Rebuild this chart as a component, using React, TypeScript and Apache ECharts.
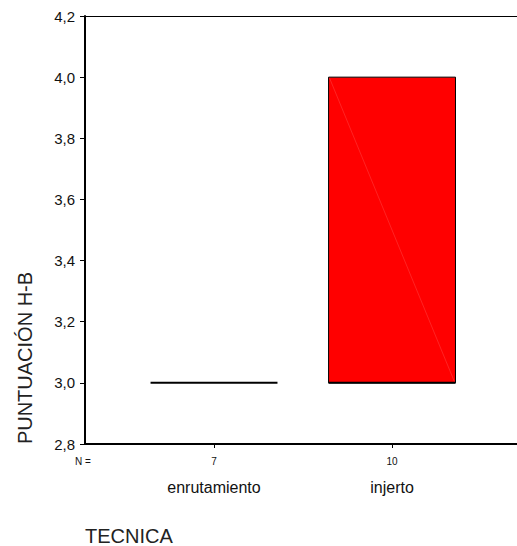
import React, { useEffect, useRef } from "react";
import * as echarts from "echarts";

const categories = ["enrutamiento", "injerto"];
const nValues = [7, 10];
const positions = [1, 2];
const q1Values = [3.0, 3.0];
const medianValues = [3.0, 3.0];
const q3Values = [3.0, 4.0];

const FONT = "'Liberation Sans', Arial, sans-serif";

export default function App() {
  const ref = useRef<HTMLDivElement>(null);
  useEffect(() => {
    if (!ref.current) return;
    const chart = echarts.init(ref.current, undefined, { renderer: "svg" });
    const data = positions.map((p, i) => [p, q1Values[i], medianValues[i], q3Values[i]]);
    chart.setOption({
      animation: false,
      backgroundColor: "#fff",
      textStyle: { fontFamily: FONT },
      grid: { left: 85, right: 0, top: 16, bottom: 102 },
      xAxis: [
        {
          type: "value",
          min: 0.2753,
          max: 2.702,
          splitLine: { show: false },
          axisLine: { show: true, onZero: false, lineStyle: { color: "#000", width: 2 } },
          axisTick: {
            show: true,
            customValues: positions,
            length: 4,
            lineStyle: { color: "#000", width: 1 },
          },
          axisLabel: {
            customValues: positions,
            margin: 10,
            formatter: (v: number) => {
              const i = positions.indexOf(Math.round(v));
              return `{n|${nValues[i]}}\n{c|${categories[i]}}`;
            },
            rich: {
              n: { fontSize: 10, lineHeight: 14, color: "#111", fontFamily: FONT },
              c: { fontSize: 16, lineHeight: 38, color: "#111", fontFamily: FONT },
            },
          },
        },
        {
          type: "value",
          position: "top",
          min: 0.2753,
          max: 2.702,
          splitLine: { show: false },
          axisLine: { show: true, lineStyle: { color: "#000", width: 1.2 } },
          axisTick: { show: false },
          axisLabel: { show: false },
        },
      ],
      yAxis: {
        type: "value",
        min: 2.8,
        max: 4.2,
        interval: 0.2,
        splitLine: { show: false },
        axisLine: { show: true, lineStyle: { color: "#000", width: 2 } },
        axisTick: { show: true, length: 5, lineStyle: { color: "#000", width: 1 } },
        axisLabel: {
          margin: 10,
          fontSize: 15,
          color: "#111",
          fontFamily: FONT,
          formatter: (v: number) => v.toFixed(1).replace(".", ","),
        },
      },
      graphic: [
        {
          type: "text",
          x: 25,
          y: 358,
          rotation: Math.PI / 2,
          style: {
            text: "PUNTUACIÓN H-B",
            fontSize: 20,
            fontFamily: FONT,
            fill: "#222",
            align: "center",
            verticalAlign: "middle",
          },
        },
        {
          type: "text",
          x: 85,
          y: 536,
          style: {
            text: "TECNICA",
            fontSize: 20,
            fontFamily: FONT,
            fill: "#222",
            align: "left",
            verticalAlign: "middle",
          },
        },
        {
          type: "text",
          x: 83,
          y: 461,
          style: {
            text: "N =",
            fontSize: 10,
            fontFamily: FONT,
            fill: "#111",
            align: "center",
            verticalAlign: "middle",
          },
        },
      ],
      series: [
        {
          type: "custom",
          xAxisIndex: 0,
          yAxisIndex: 0,
          data,
          renderItem: (params: any, api: any) => {
            const x = api.value(0);
            const q1 = api.value(1);
            const med = api.value(2);
            const q3 = api.value(3);
            const w = api.size([0.713, 0])[0];
            const pTop = api.coord([x, q3]);
            const pBot = api.coord([x, q1]);
            const pMed = api.coord([x, med]);
            const left = pTop[0] - w / 2;
            const h = pBot[1] - pTop[1];
            const children: any[] = [];
            if (h > 0.5) {
              children.push({
                type: "rect",
                shape: { x: left, y: pTop[1], width: w, height: h },
                style: { fill: "#ff0000", stroke: "#000", lineWidth: 1 },
              });
              children.push({
                type: "line",
                shape: { x1: left + 1, y1: pTop[1] + 1, x2: left + w - 1, y2: pBot[1] - 1 },
                style: { stroke: "#ff3a3a", lineWidth: 0.6 },
              });
            }
            children.push({
              type: "line",
              shape: { x1: left, y1: pMed[1], x2: left + w, y2: pMed[1] },
              style: { stroke: "#000", lineWidth: 2 },
            });
            return { type: "group", children };
          },
        },
      ],
    });
    return () => chart.dispose();
  }, []);
  return (
    <div
      ref={ref}
      style={{ position: "fixed", left: 0, top: 0, width: 517, height: 546, background: "#fff" }}
    />
  );
}
